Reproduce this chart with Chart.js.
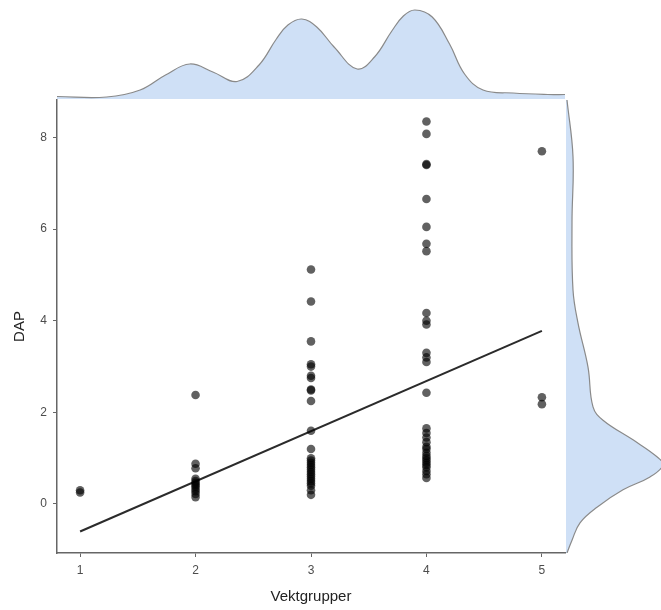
<!DOCTYPE html>
<html>
<head>
<meta charset="utf-8">
<script src="https://cdn.jsdelivr.net/npm/chart.js@4"></script>
<style>
  body { margin: 0; background: #fff; }
  #wrap { position: relative; width: 661px; height: 610px; }
  canvas { position: absolute; }
</style>
</head>
<body>
<div id="wrap">
  <canvas id="main" width="661" height="610" style="left:0;top:0"></canvas>
  <canvas id="top" width="661" height="100" style="left:0;top:0"></canvas>
  <canvas id="right" width="95" height="453" style="left:566px;top:100px"></canvas>
</div>
<script>
// DAP per vektgruppe
const dapG1 = [0.25, 0.3];
const dapG2 = [2.38, 0.88, 0.78, 0.55, 0.5, 0.46, 0.42, 0.38, 0.33, 0.28, 0.22, 0.15];
const dapG3 = [5.12, 4.42, 3.55, 3.05, 3.0, 2.8, 2.75, 2.5, 2.48, 2.25, 1.6, 1.2, 1.0, 0.95, 0.9,
               0.85, 0.8, 0.75, 0.7, 0.65, 0.6, 0.55, 0.5, 0.45, 0.4, 0.3, 0.2];
const dapG4 = [8.35, 8.08, 7.42, 7.4, 6.66, 6.05, 5.68, 5.52, 4.17, 4.0, 3.92, 3.3, 3.2, 3.1, 2.43,
               1.65, 1.55, 1.45, 1.35, 1.25, 1.2, 1.12, 1.05, 1.0, 0.95, 0.9, 0.85, 0.8, 0.72, 0.65, 0.57];
const dapG5 = [7.7, 2.33, 2.18];
const groups = [1, 2, 3, 4, 5];

// regresjonslinje (lest av bildet)
const trendX = [1, 5];
const trendY = [-0.6, 3.78];

// marginal tetthet, topp (x) og høyre (y)
const densXpos = [0.8, 1.23, 1.52, 1.74, 1.95, 2.15, 2.36, 2.55, 2.7, 2.8, 2.92, 3.05, 3.2, 3.40, 3.55, 3.7, 3.8, 3.90, 4.05, 4.2, 4.33, 4.49, 4.75, 5.05, 5.2];
const densXval = [2.5, 2, 9, 24, 35, 27, 17.5, 34, 60, 74, 80, 72, 52, 30, 42, 68, 83, 89, 82, 55, 25, 9, 6, 4.5, 4.5];
const densYpos = [8.82, 7.58, 6.14, 4.67, 3.95, 2.99, 2.12, 1.83, 1.40, 1.03, 0.85, 0.59, 0.31, -0.07, -0.41, -0.79, -1.07];
const densYval = [1, 7, 6, 7, 12, 22, 27, 37, 67, 91, 97, 84, 57, 31, 14, 6, 1];

const xTicks = [1, 2, 3, 4, 5];
const yTicks = [0, 2, 4, 6, 8];

const fillBlue = '#cfe0f6';
const densLine = '#8a8a8a';
const axisCol = '#666666';

const allDap = [dapG1, dapG2, dapG3, dapG4, dapG5];
const points = [];
allDap.forEach((arr, i) => arr.forEach(v => points.push({x: groups[i], y: v})));

new Chart(document.getElementById('main'), {
    type: 'scatter',
    data: {
        datasets: [{
            data: points,
            pointRadius: 4.3,
            pointBackgroundColor: 'rgba(0,0,0,0.62)',
            pointBorderWidth: 0
        }, {
            data: trendX.map((x, i) => ({x: x, y: trendY[i]})),
            showLine: true,
            pointRadius: 0,
            borderColor: '#2b2b2b',
            borderWidth: 2
        }]
    },
    options: {
        responsive: false,
        animation: false,
        devicePixelRatio: 1,
        layout: { padding: { left: 0, right: 96, top: 100, bottom: 0 } },
        plugins: { legend: { display: false }, tooltip: { enabled: false } },
        scales: {
            x: {
                type: 'linear', min: 0.8, max: 5.2,
                afterBuildTicks: s => { s.ticks = xTicks.map(v => ({value: v})); },
                afterFit: s => { s.height = 57; },
                grid: { drawOnChartArea: false, drawTicks: true, tickLength: 4, color: axisCol, tickWidth: 1 },
                border: { display: true, color: axisCol, width: 1.5 },
                ticks: { color: '#4d4d4d', padding: 6, font: { family: 'Liberation Sans, Arial', size: 12 } },
                title: { display: true, text: 'Vektgrupper', color: '#222', padding: { bottom: 4 },
                         font: { family: 'Liberation Sans, Arial', size: 15 } }
            },
            y: {
                type: 'linear', min: -1.07, max: 8.82,
                afterBuildTicks: s => { s.ticks = yTicks.map(v => ({value: v})); },
                afterFit: s => { s.width = 57; },
                grid: { drawOnChartArea: false, drawTicks: true, tickLength: 4, color: axisCol, tickWidth: 1 },
                border: { display: true, color: axisCol, width: 1.5 },
                ticks: { color: '#4d4d4d', padding: 6, font: { family: 'Liberation Sans, Arial', size: 12 } },
                title: { display: true, text: 'DAP', color: '#222', padding: { top: 11 },
                         font: { family: 'Liberation Sans, Arial', size: 15 } }
            }
        }
    }
});

new Chart(document.getElementById('top'), {
    type: 'line',
    data: {
        datasets: [{
            data: densXpos.map((x, i) => ({x: x, y: densXval[i]})),
            fill: 'origin',
            backgroundColor: fillBlue,
            borderColor: densLine,
            borderWidth: 1.2,
            pointRadius: 0,
            tension: 0.4
        }]
    },
    options: {
        responsive: false,
        animation: false,
        devicePixelRatio: 1,
        layout: { padding: { left: 57, right: 96, top: 0, bottom: 1 } },
        plugins: { legend: { display: false }, tooltip: { enabled: false } },
        scales: {
            x: { type: 'linear', min: 0.8, max: 5.2, display: false },
            y: { type: 'linear', min: 0, max: 99, display: false }
        }
    }
});

new Chart(document.getElementById('right'), {
    type: 'line',
    data: {
        datasets: [{
            data: densYpos.map((y, i) => ({x: densYval[i], y: y})),
            fill: 'origin',
            backgroundColor: fillBlue,
            borderColor: densLine,
            borderWidth: 1.2,
            pointRadius: 0,
            tension: 0.4
        }]
    },
    options: {
        indexAxis: 'y',
        responsive: false,
        animation: false,
        devicePixelRatio: 1,
        layout: { padding: 0 },
        plugins: { legend: { display: false }, tooltip: { enabled: false } },
        scales: {
            x: { type: 'linear', min: 0, max: 95, display: false },
            y: { type: 'linear', min: -1.07, max: 8.82, display: false }
        }
    }
});
</script>
</body>
</html>
